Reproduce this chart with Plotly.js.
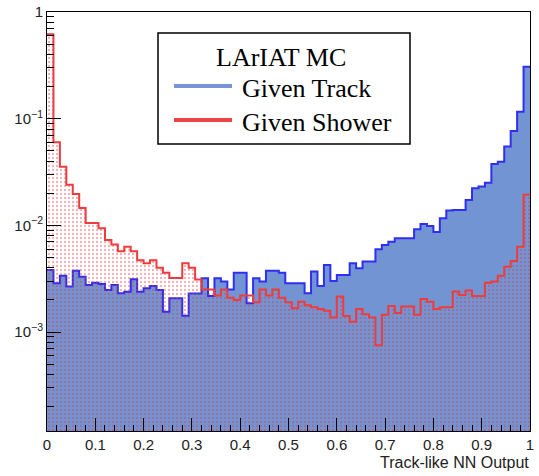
<!DOCTYPE html>
<html><head><meta charset="utf-8">
<script src="https://cdn.plot.ly/plotly-3.0.1.min.js"></script>
<style>html,body{margin:0;padding:0;background:#fff;} #plot{width:539px;height:476px;}</style>
</head><body><div id="plot"></div>
<script>
// ---- data ----
const nBins = 75;
const xMin = 0;
const xMax = 1;
const trackValues = [
  0.00382, 0.00286, 0.00336, 0.00267, 0.00376, 0.0033, 0.00276, 0.0029, 0.00282, 0.00248,
  0.00276, 0.00231, 0.00239, 0.00313, 0.00239, 0.00257, 0.0027, 0.00248, 0.00155, 0.00207,
  0.00207, 0.00142, 0.0023, 0.0023, 0.00319, 0.00218, 0.00319, 0.00297, 0.0025, 0.0036,
  0.0036, 0.00186, 0.00319, 0.00297, 0.00376, 0.00376, 0.0036, 0.00286, 0.00286, 0.00286,
  0.00231, 0.0037, 0.0027, 0.00425, 0.0030, 0.00343, 0.00343, 0.00441, 0.00396, 0.00457,
  0.00457, 0.00597, 0.00655, 0.00703, 0.00757, 0.00757, 0.00757, 0.0092, 0.0103, 0.00987,
  0.00867, 0.01166, 0.01374, 0.01394, 0.01394, 0.0173, 0.0223, 0.0231, 0.0251, 0.0376,
  0.0395, 0.0547, 0.0767, 0.1163, 0.307
];
const showerValues = [
  0.62, 0.060, 0.0355, 0.024, 0.0197, 0.0145, 0.0105, 0.0105, 0.0094, 0.0073,
  0.0066, 0.0057, 0.0063, 0.0057, 0.0047, 0.0044, 0.0047, 0.0040, 0.0036, 0.0032,
  0.0032, 0.0044, 0.0040, 0.0031, 0.0025, 0.0025, 0.0022, 0.0025, 0.0021, 0.0020,
  0.0022, 0.0022, 0.0019, 0.0025, 0.0022, 0.0025, 0.0021, 0.0019, 0.00167, 0.00192,
  0.00178, 0.00171, 0.00164, 0.00158, 0.00137, 0.00215, 0.00141, 0.00125, 0.00164, 0.00147,
  0.00137, 0.00075, 0.00145, 0.00175, 0.00151, 0.00173, 0.00173, 0.00145, 0.00204, 0.00192,
  0.00164, 0.00171, 0.00171, 0.0024, 0.00222, 0.00245, 0.00217, 0.00217, 0.0029, 0.00297,
  0.00336, 0.0041, 0.00464, 0.0063, 0.0193
];
const xTickVals = [0, 0.1, 0.2, 0.3, 0.4, 0.5, 0.6, 0.7, 0.8, 0.9, 1];
const xTickText = ['0', '0.1', '0.2', '0.3', '0.4', '0.5', '0.6', '0.7', '0.8', '0.9', '1'];
const yTickVals = [0.001, 0.01, 0.1, 1];
const yTickText = ['10<sup>\u22123</sup>', '10<sup>\u22122</sup>', '10<sup>\u22121</sup>', '1'];
const legendHeader = 'LArIAT MC';
const seriesNames = ['Given Track', 'Given Shower'];
const xTitle = 'Track-like NN Output';
const yMin = 1.18e-4;
const yMax = 1;

// ---- derived ----
const edges = [];
for (let i = 0; i <= nBins; i++) edges.push(xMin + i * (xMax - xMin) / nBins);
const stepY = v => v.concat([v[v.length - 1]]);

const minorY = [];
for (let d = -4; d <= -1; d++) {
  for (let k = 2; k <= 9; k++) {
    const v = k * Math.pow(10, d);
    if (v > yMin && v < yMax) minorY.push(v);
  }
}

const W = 539, H = 476;
const M = {l: 47, r: 9, t: 12, b: 45};
const pw = W - M.l - M.r, ph = H - M.t - M.b;
const px = x => (x - M.l) / pw;
const py = y => 1 - (y - M.t) / ph;

const trackFill = '#7394d2';
const trackLine = '#2f2ff2';
const showerLine = '#ef3b3b';

const traces = [
  {
    x: edges, y: stepY(trackValues), type: 'scatter', mode: 'lines',
    line: {shape: 'hv', color: trackLine, width: 2},
    fill: 'tozeroy', fillcolor: trackFill,
    name: seriesNames[0], hoverinfo: 'skip', showlegend: false
  },
  {
    x: edges, y: stepY(showerValues), type: 'scatter', mode: 'lines',
    line: {shape: 'hv', color: showerLine, width: 2},
    fill: 'tozeroy', fillcolor: 'rgba(255,255,255,0.01)',
    fillpattern: {shape: '.', fgcolor: '#e8323c', bgcolor: 'rgba(0,0,0,0)', size: 4, solidity: 0.2, fillmode: 'overlay'},
    name: seriesNames[1], hoverinfo: 'skip', showlegend: false
  }
];

const tickFont = {family: 'Liberation Sans, Arial, sans-serif', size: 15, color: '#222'};
const serif = {family: 'Liberation Serif, Times New Roman, serif', size: 26, color: '#000'};

const layout = {
  width: W, height: H,
  margin: M,
  paper_bgcolor: '#fff', plot_bgcolor: '#fff',
  showlegend: false,
  xaxis: {
    range: [xMin, xMax], tickmode: 'array', tickvals: xTickVals, ticktext: xTickText,
    ticks: 'inside', ticklen: 13, tickwidth: 1, tickcolor: '#000',
    showline: true, mirror: true, linecolor: '#000', linewidth: 1,
    showgrid: false, zeroline: false, tickfont: tickFont, layer: 'above traces',
    minor: {dtick: 0.02, tick0: 0, ticks: 'inside', ticklen: 6, tickwidth: 1, tickcolor: '#000', showgrid: false}
  },
  yaxis: {
    type: 'log', range: [Math.log10(yMin), Math.log10(yMax)],
    tickmode: 'array', tickvals: yTickVals, ticktext: yTickText,
    ticks: 'inside', ticklen: 14, tickwidth: 1, tickcolor: '#000',
    showline: true, mirror: true, linecolor: '#000', linewidth: 1,
    showgrid: false, zeroline: false, tickfont: tickFont, layer: 'above traces',
    minor: {tickmode: 'array', tickvals: minorY, ticks: 'inside', ticklen: 7, tickwidth: 1, tickcolor: '#000', showgrid: false}
  },
  shapes: [
    {type: 'rect', xref: 'paper', yref: 'paper', x0: px(158), x1: px(410), y0: py(144), y1: py(33),
     line: {color: '#000', width: 1.5}, fillcolor: '#fff', layer: 'above'},
    {type: 'line', xref: 'paper', yref: 'paper', x0: px(174), x1: px(232), y0: py(86), y1: py(86),
     line: {color: '#7896d6', width: 4}, layer: 'above'},
    {type: 'line', xref: 'paper', yref: 'paper', x0: px(174), x1: px(232), y0: py(120), y1: py(120),
     line: {color: '#f04444', width: 4}, layer: 'above'}
  ],
  annotations: [
    {text: legendHeader, xref: 'paper', yref: 'paper', x: px(281), y: py(57), xanchor: 'center', yanchor: 'middle', showarrow: false, font: serif},
    {text: seriesNames[0], xref: 'paper', yref: 'paper', x: px(240), y: py(88), xanchor: 'left', yanchor: 'middle', showarrow: false, font: serif},
    {text: seriesNames[1], xref: 'paper', yref: 'paper', x: px(240), y: py(122), xanchor: 'left', yanchor: 'middle', showarrow: false, font: serif},
    {text: xTitle, xref: 'paper', yref: 'paper', x: px(531), y: py(462), xanchor: 'right', yanchor: 'middle', showarrow: false,
     font: {family: 'Liberation Sans, Arial, sans-serif', size: 16, color: '#222'}}
  ]
};

Plotly.newPlot('plot', traces, layout, {staticPlot: true, displayModeBar: false});
</script>
</body></html>
